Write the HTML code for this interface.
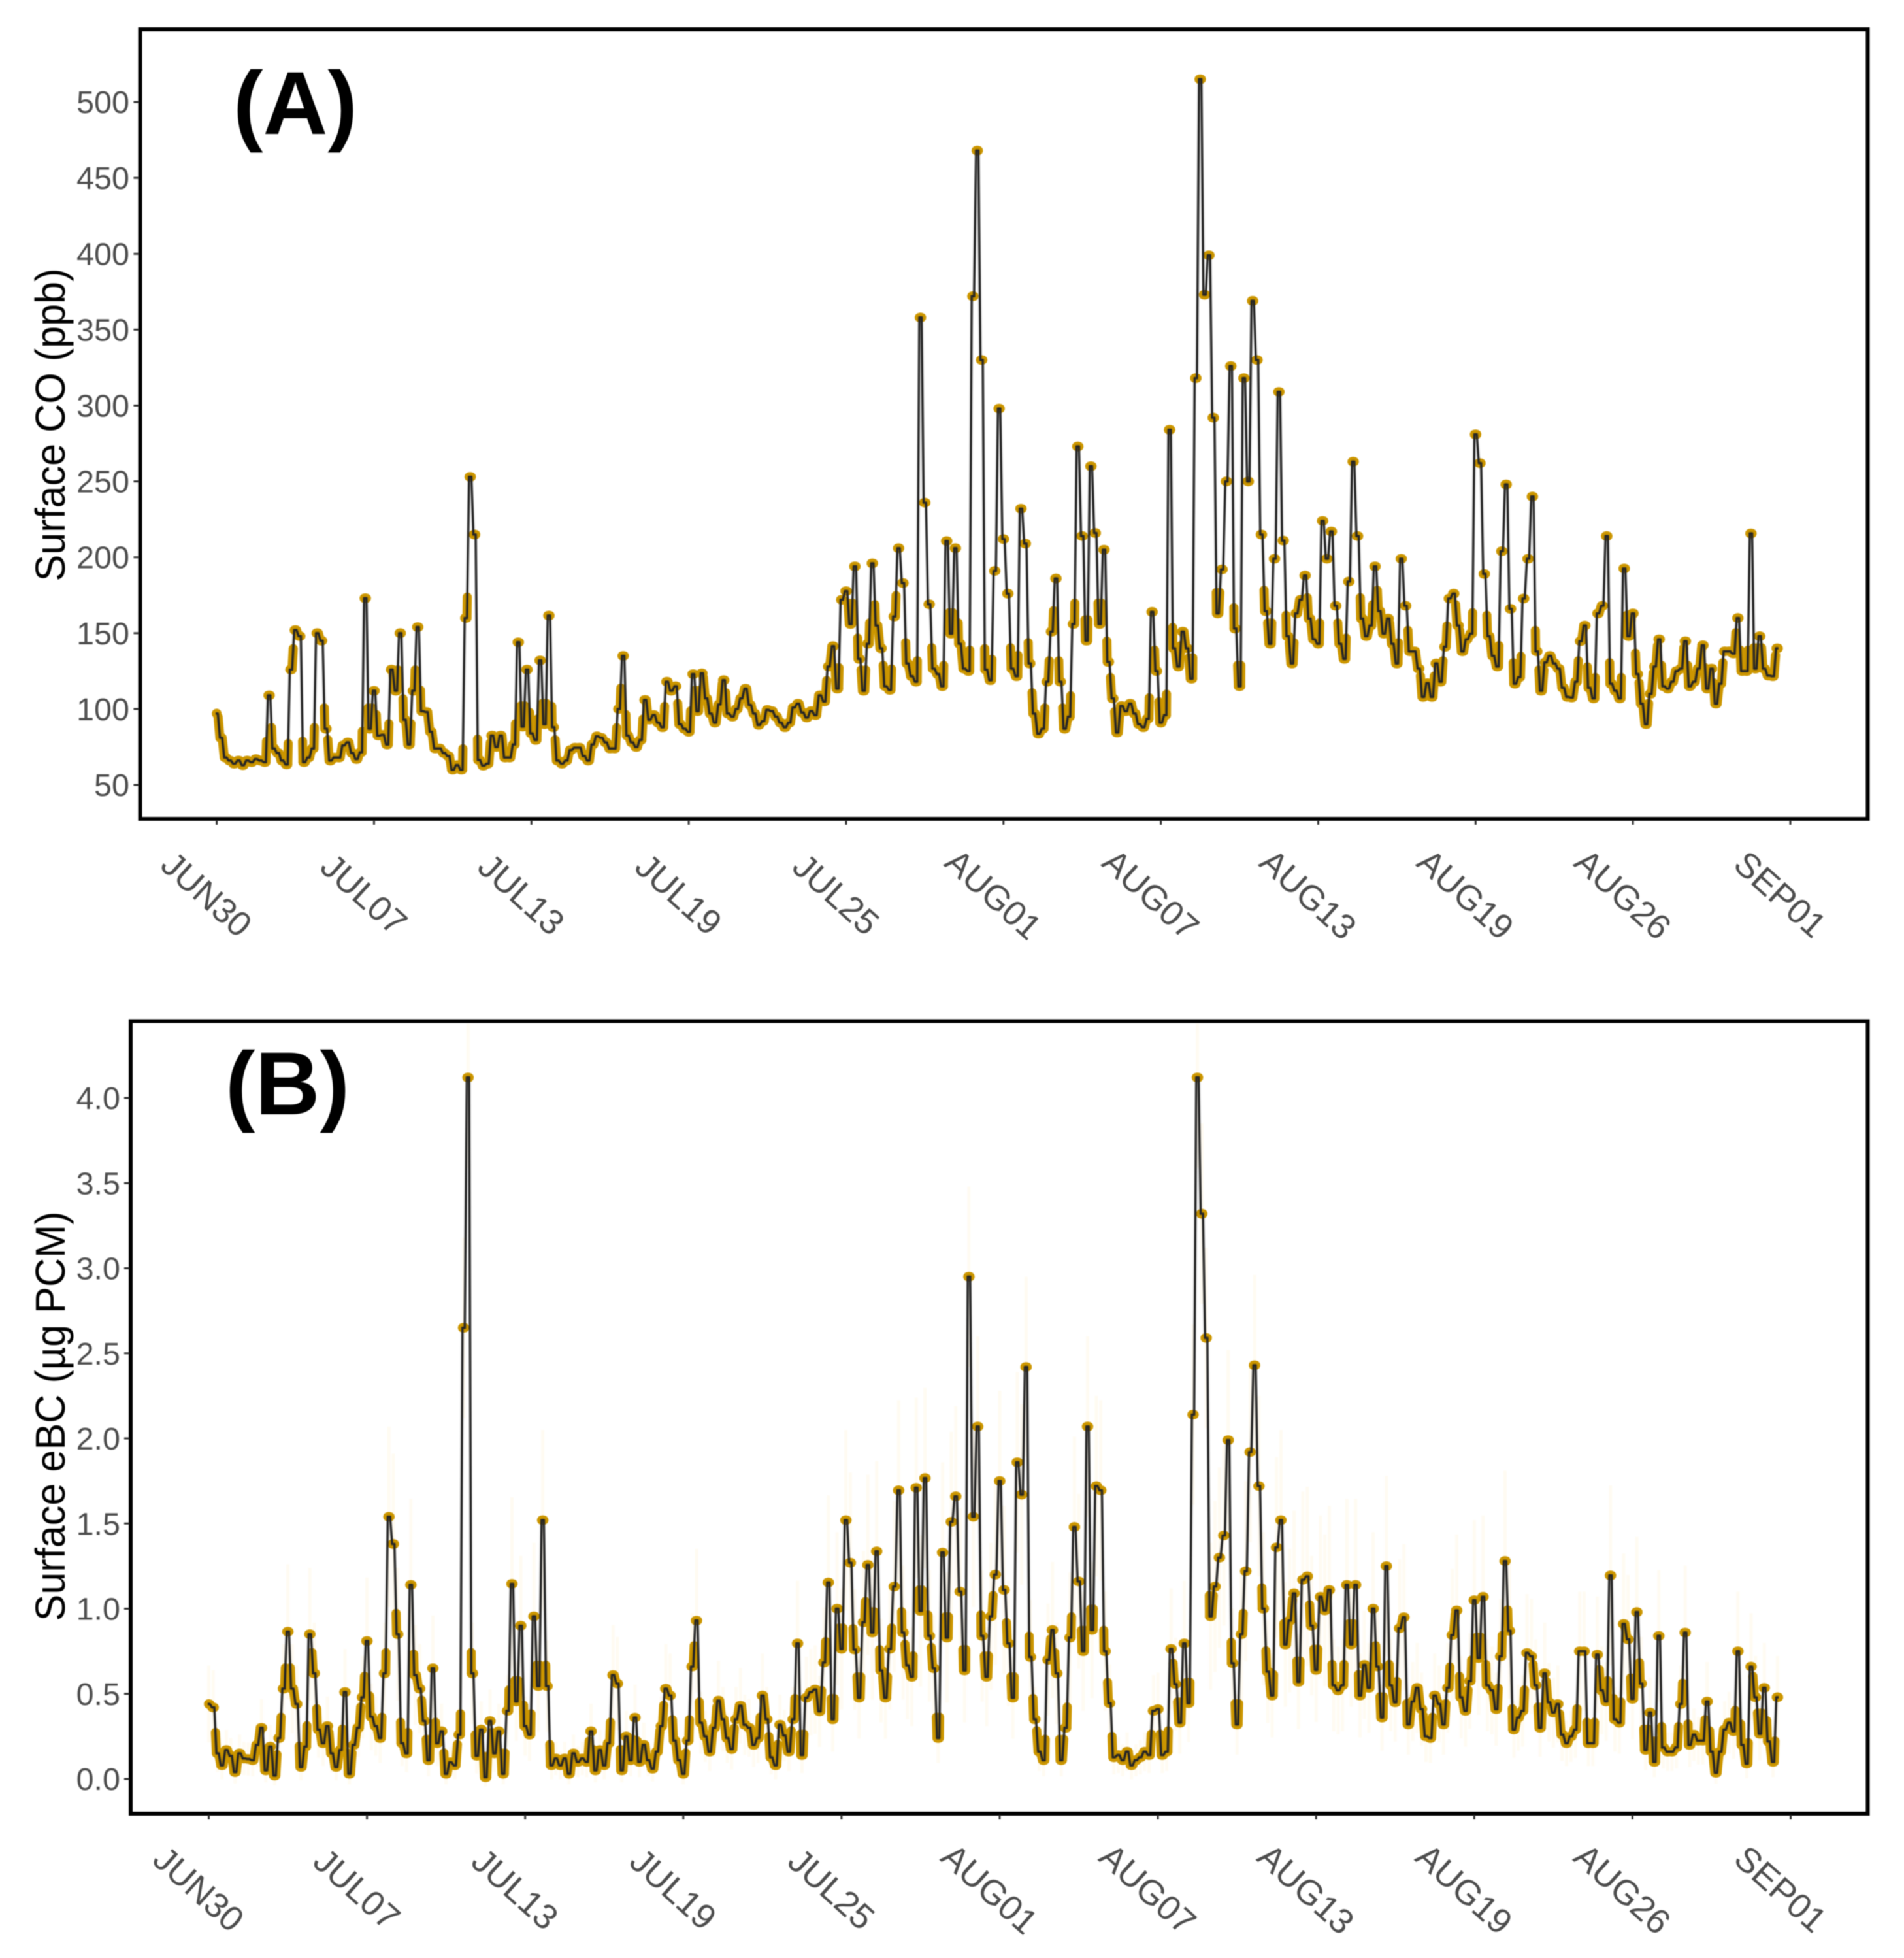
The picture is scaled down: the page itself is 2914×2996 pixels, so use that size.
<!DOCTYPE html>
<html lang="en">
<head>
<meta charset="utf-8">
<title>Surface CO and Surface eBC time series</title>
<style>
html,body{margin:0;padding:0;background:#fff;width:2914px;height:2996px;overflow:hidden}
svg{display:block;font-family:"Liberation Sans",sans-serif;filter:blur(0.7px)}
</style>
</head>
<body>
<svg id="chart" xmlns="http://www.w3.org/2000/svg" width="2914" height="2996" viewBox="0 0 2914 2996"></svg>
<script>
const dateLabels = ["JUN30","JUL07","JUL13","JUL19","JUL25","AUG01","AUG07","AUG13","AUG19","AUG26","SEP01"];
const samplesPerDateTick = 36;
const coTicks = [50,100,150,200,250,300,350,400,450,500];
const ebcTicks = [0,0.5,1,1.5,2,2.5,3,3.5,4];
const coValues = [
97,81,68,66,64,66,63,66,65,67,
66,65,109,74,71,66,63.5,126,152,148,
65,68,74,150,145,87,66,68,68,76,
78,71,67,71.5,173,87,112,82.5,83,76.6,
126,112,150,93,76.6,112,154,98.6,98,85,
74,74,71,69,60,63,60,160,253,215,
66.4,62.7,64,82.5,75,82.5,68,68,76.6,144,
88.4,126,84,79.6,132,90,161.6,88,66,64,
66,73,74.5,74.5,69,66,76.6,82,81,78,
74,74,100,135,82.5,78,75,79.6,106,93,
96,91,88,118,112,115,90,87,85,123,
98.6,123.5,107,97,91,103,119,97,
95,100,107,113.4,102.7,97,89.5,92,99.4,98.6,95,91,
88,91,101,103.5,97.7,94.4,98.6,96,109,105,
128,141.4,113.4,172,177.7,156,194,133,112,143,
196,155,140,115,112.6,161,206,183,130,121.6,
118,358,236,169,126.6,123,115,210.7,149.7,206,
143,126.6,125,372,468,330,126,119,191,298,
212,176,126.6,121.6,232,209,130,97,83.7,87,
118,151,186,118,87,95,156,273,214,145,
260,216,156,205,131,107,84.5,102,98.6,103.5,
97,90,88,93.6,164,125,91,96,284,140,
128,151,140,120,318,515,373,399,292,163,
192,250,326,153,115,318,250,369,330,215,
164.5,143,199,309,211,148,130,163,172,188,
159.6,146,143,224,199,217,168,143,133,184,
263,214,159.6,148,155,194,164.5,149.7,159.6,143,
130,199,168,138,138,126.6,108,117,108,130,
118,141,172.8,176,155,138,146,149.7,281,262,
189,148,135,128,204,248,166,116.7,121,172.8,
199,240,138,112,130.7,135,130,126.6,114,108,
107.6,118,144.7,155,114,107,163,168,214,116.7,
112,107,192.6,148,163,123,103.5,90,110,128,
146,115,113.4,118,125,126.6,144.7,115,118,126.6,
142,113.4,126.6,103.5,116.7,138,138,136.5,160,125,
125,215.7,126.6,148,126.6,122,121.6,140
];
const ebcValues = [
.44,.42,.15,.08,.17,.135,.04,.15,.12,.117,
.11,.2,.3,.05,.19,.02,.24,.53,.865,.53,
.44,.07,.19,.85,.62,.29,.21,.31,.15,.07,
.17,.51,.03,.2,.3,.48,.81,.365,.31,.24,
.62,1.54,1.38,.85,.21,.15,1.14,.61,.53,.34,
.11,.65,.21,.28,.03,.098,.08,.26,2.65,4.12,
.62,.136,.29,.01,.34,.15,.28,.03,.4,1.146,
.455,.9,.31,.26,.955,.545,1.52,.545,.08,.12,
.08,.12,.03,.15,.1,.12,.1,.28,.05,.17,
.08,.21,.61,.56,.05,.25,.11,.36,.1,.2,
.11,.06,.16,.31,.53,.49,.225,.11,.03,.225,
.66,.93,.33,.25,.16,.3,.46,.35,
.24,.175,.35,.43,.318,.3,.2,.24,.49,.35,.127,.08,
.318,.255,.16,.35,.796,.14,.477,.51,.525,.397,
.684,1.154,.35,1.0,.764,1.52,1.27,.76,.477,.92,
1.257,.86,1.337,.637,.477,.764,1.13,1.695,.86,.668,
.6,1.71,.987,1.767,.84,.65,.24,1.33,.83,1.51,
1.66,1.1,.637,2.95,1.54,2.07,.84,.6,.955,1.2,
1.75,1.11,.796,.477,1.86,1.67,2.42,.716,.35,.16,
.11,.7,.875,.62,.11,.3,.83,1.48,1.16,.75,
2.07,.875,1.72,1.695,.75,.445,.127,.14,.11,.16,
.08,.11,.127,.16,.14,.4,.41,.14,.16,.764,
.557,.33,.796,.445,2.14,4.12,3.32,2.59,.955,1.13,
1.3,1.43,1.99,.68,.32,.85,1.22,1.92,2.43,1.72,
1.0,.63,.49,1.36,1.52,.79,.93,1.09,.57,1.17,
1.19,.9,.64,1.07,.99,1.11,.55,.52,.55,1.14,
.79,1.14,.49,.67,.535,1.0,.66,.36,1.25,.55,
.45,.885,.95,.32,.455,.535,.41,.25,.24,.49,
.44,.32,.535,.845,.99,.48,.4,.575,1.05,.71,
1.07,.55,.52,.41,.72,1.28,.87,.29,.36,.4,
.74,.72,.55,.3,.62,.45,.39,.44,.26,.21,
.25,.29,.75,.75,.21,.21,.73,.52,.455,1.195,
.35,.33,.91,.82,.47,.98,.56,.17,.39,.1,
.84,.185,.16,.16,.185,.44,.86,.2,.26,.225,
.225,.455,.16,.036,.16,.29,.33,.28,.75,.2,
.09,.66,.48,.265,.535,.22,.1,.48
];

const NS = "http://www.w3.org/2000/svg";
const svg = document.getElementById("chart");

function make(parent, tag, attrs, text) {
  const el = document.createElementNS(NS, tag);
  for (const k in attrs) el.setAttribute(k, attrs[k]);
  if (text !== undefined) el.textContent = text;
  parent.appendChild(el);
  return el;
}

// x/y axis functions: panel A
function xA(i) { return 331.6 + 6.69 * i; }
function yA(v) { return 1201 - (v - 50) * 2.322; }
// x/y axis functions: panel B
function xB(i) { return 319.5 + 6.725 * i; }
function yB(v) { return 2722 - v * 260.5; }

function drawPanel(cfg) {
  const g = make(svg, "g", {});
  
  
  const hold = 0.26 * (cfg.x(1) - cfg.x(0));

  // faint uncertainty ribbon (panel B only)
  if (cfg.ribbon) {
    const rib = make(g, "g", {stroke: "#ffdf9a", "stroke-opacity": "0.13", "stroke-width": "5"});
    
    
    cfg.values.forEach(function (v, i) {
      const half = cfg.ribbon * Math.min(v, 1.2) + 0.05;
      make(rib, "line", {x1: cfg.x(i), x2: cfg.x(i), y1: cfg.y(Math.max(v - half, -0.1)), y2: Math.max(cfg.y(v + half), cfg.top + 4)});
    });
  }

  // gold skirt: markers merge near the low end of a rise, only in the lower part of the plot
  const band = make(g, "g", {stroke: "#cc9600", "stroke-width": "14", "stroke-linecap": "round", fill: "none"});
  
  
  for (let i = 1; i < cfg.values.length; i++) {
    const x0 = cfg.x(i - 1) + hold, x1 = cfg.x(i) - hold;
    const y0 = cfg.y(cfg.values[i - 1]), y1 = cfg.y(cfg.values[i]);
    const lowFirst = y0 > y1;
    const lx = lowFirst ? x0 : x1, ly = lowFirst ? y0 : y1;
    const hx = lowFirst ? x1 : x0, hy = lowFirst ? y1 : y0;
    const lowValue = Math.min(cfg.values[i - 1], cfg.values[i]);
    if (lowValue < cfg.skirtCeiling) {
      const t = Math.min(1, cfg.skirt / Math.max(1, ly - hy));
      make(band, "line", {x1: lx, y1: ly, x2: lx + (hx - lx) * t, y2: ly + (hy - ly) * t});
    }
    make(band, "line", {x1: cfg.x(i) - hold, y1: y1, x2: cfg.x(i) + hold, y2: y1});
  }

  // markers
  const dots = make(g, "g", {fill: "#cc9600"});
  
  
  cfg.values.forEach(function (v, i) {
    const c = make(dots, "circle", {cx: cfg.x(i), cy: cfg.y(v), r: 7.4});
    
    
  });

  // connecting line (steep between samples) with soft halo
  const pts = [];
  cfg.values.forEach(function (v, i) {
    const y = cfg.y(v).toFixed(1);
    pts.push((cfg.x(i) - hold).toFixed(1) + "," + y);
    pts.push((cfg.x(i) + hold).toFixed(1) + "," + y);
  });
  const pointString = pts.join(" ");
  const halo = make(g, "polyline", {points: pointString, fill: "none", stroke: "#000", "stroke-opacity": "0.12", "stroke-width": "6", "stroke-linejoin": "round"});
  
  
  const line = make(g, "polyline", {points: pointString, fill: "none", stroke: "#262626", "stroke-width": "3.3", "stroke-linejoin": "round"});
  
  

  // frame
  const frame = make(g, "rect", {x: cfg.left, y: cfg.top, width: cfg.right - cfg.left, height: cfg.bottom - cfg.top, fill: "none", stroke: "#000", "stroke-width": "6"});
  
  

  // y axis
  cfg.yTicks.forEach(function (t) {
    const tick = make(g, "line", {x1: cfg.left - 10, x2: cfg.left - 2, y1: cfg.y(t), y2: cfg.y(t), stroke: "#333", "stroke-width": "3"});
    
    
    const lab = make(g, "text", {x: cfg.labelRight, y: cfg.y(t) + 17, "text-anchor": "end", "font-size": "48.5", fill: "#4d4d4d"}, cfg.yFormat(t));
    
    
  });

  // x axis
  dateLabels.forEach(function (d, k) {
    const px = cfg.x(k * samplesPerDateTick);
    const tick = make(g, "line", {x1: px, x2: px, y1: cfg.bottom + 2, y2: cfg.bottom + 9, stroke: "#333", "stroke-width": "3"});
    
    
    const cx = px - 15, cy = cfg.bottom + 115;
    const lab = make(g, "text", {x: cx, y: cy + 19, "text-anchor": "middle", "font-size": "53.5", fill: "#4d4d4d", transform: "rotate(42 " + cx + " " + cy + ")"}, d);
    
    
  });

  // y title
  const title = make(g, "text", {x: 0, y: 0, "text-anchor": "middle", "font-size": "64", fill: "#000", textLength: cfg.titleLength, lengthAdjust: "spacingAndGlyphs", transform: "translate(99 " + cfg.titleY + ") rotate(-90)"}, cfg.title);
  
  

  // panel letter
  const letter = make(g, "text", {x: cfg.letterX, y: cfg.letterY, "text-anchor": "middle", "font-size": "137", "font-weight": "bold", fill: "#000"}, cfg.letter);
  
  
}

drawPanel({
  key: "co", values: coValues, x: xA, y: yA, yTicks: coTicks,
  yFormat: function (t) { return String(t); },
  left: 214.5, top: 45, right: 2858.5, bottom: 1253,
  labelRight: 198, title: "Surface CO (ppb)", titleY: 650, titleLength: 479,
  letter: "(A)", letterX: 452, letterY: 205, ribbon: 0, skirt: 32, skirtCeiling: 165
});
drawPanel({
  key: "ebc", values: ebcValues, x: xB, y: yB, yTicks: ebcTicks,
  yFormat: function (t) { return t.toFixed(1); },
  left: 200, top: 1562.5, right: 2858.5, bottom: 2775,
  labelRight: 184, title: "Surface eBC (\u00b5g PCM)", titleY: 2167, titleLength: 627,
  letter: "(B)", letterX: 440, letterY: 1705, ribbon: 0.4, skirt: 32, skirtCeiling: 1.1
});
</script>
</body>
</html>
